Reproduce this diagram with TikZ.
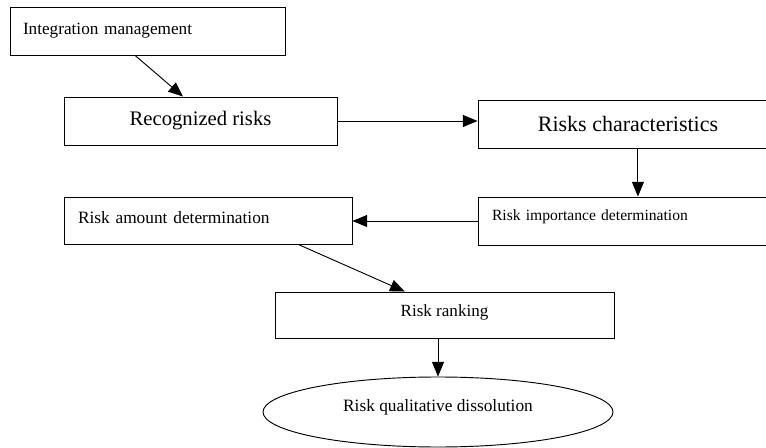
\documentclass[tikz,border=0pt]{standalone}
\usepackage{fontspec}
\setmainfont{Liberation Serif}
\usetikzlibrary{arrows.meta,calc,shapes.geometric}

\begin{document}
\begin{tikzpicture}[x=0.75pt,y=-0.75pt,
    line width=0.7pt,
    >={Triangle[length=11pt,width=9pt]},
    flow box/.style={draw,rectangle,inner sep=0pt},
    left box/.style={draw,rectangle,align=left,inner ysep=0pt},
    end node/.style={draw,ellipse,inner sep=0pt}]

  \useasboundingbox (0,0) rectangle (766,448);

  % Define boxes
  \node[left box,inner xsep=9.75pt,text width=186.75pt,minimum height=36pt,
        font=\fontsize{12.9}{15}\selectfont] (integ) at (147.5,31) {Integration management};
  \node[flow box,minimum width=204.75pt,minimum height=36pt,
        font=\fontsize{15.5}{18}\selectfont] (recog) at (200.5,121) {Recognized risks};
  \node[flow box,minimum width=225pt,minimum height=36pt,
        font=\fontsize{16.5}{19}\selectfont] (charac) at (628,124) {Risks characteristics};
  \node[left box,inner xsep=10.5pt,text width=204pt,minimum height=36pt,text depth=8.5pt,
        font=\fontsize{11.7}{14}\selectfont] (import) at (628,221) {Risk importance determination};
  \node[left box,inner xsep=10.5pt,text width=195pt,minimum height=35.25pt,text depth=4.5pt,
        font=\fontsize{13}{15}\selectfont] (amount) at (208,220.5) {Risk amount determination};
  \node[flow box,minimum width=254.25pt,minimum height=34.5pt,text depth=7pt,
        font=\fontsize{12.8}{15}\selectfont] (rank) at (444.5,315) {Risk ranking};
  \node[end node,minimum width=262.5pt,minimum height=52.5pt,text depth=10pt,
        font=\fontsize{13}{15}\selectfont] (dissol) at (438,412) {Risk qualitative dissolution};

  % Define arrows
  \draw[->] ($(integ.south west)!0.455!(integ.south east)$) -- ($(recog.north west)!0.436!(recog.north east)$);
  \draw[->] (recog.east) -- (recog.east -| charac.west);
  \coordinate (c3) at ($(charac.south west)!0.533!(charac.south east)$);
  \draw[->] (c3) -- (c3 |- import.north);
  \draw[->] (import.west) -- (import.west -| amount.east);
  \draw[->] ($(amount.south west)!0.8125!(amount.south east)$) -- ($(rank.north west)!0.383!(rank.north east)$);
  \draw[->] (rank.south -| dissol.north) -- (dissol.north);

\end{tikzpicture}
\end{document}
